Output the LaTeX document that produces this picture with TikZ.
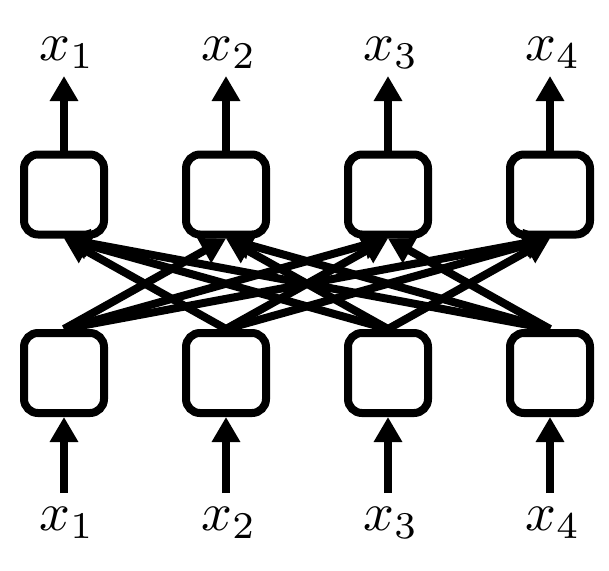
\documentclass[tikz,border=0pt]{standalone}
\usepackage{graphicx}
\usetikzlibrary{arrows.meta}
\begin{document}
\begin{tikzpicture}[x=1pt,y=-1pt,
  cell/.style={draw=black,line width=8pt,rounded corners=14pt,minimum size=80pt,inner sep=0pt,fill=white},
  lbl/.style={inner sep=0pt,anchor=base},
  arr/.style={line width=8pt,-{Triangle[length=25pt,width=27pt]}}]
\useasboundingbox (0,0) rectangle (609,570);
% cells
\foreach \i/\x in {1/64,2/226,3/388,4/550}{
  \node[cell] (t\i) at (\x,194.5) {};
  \node[cell] (b\i) at (\x,373) {};
  \node[lbl] (o\i) at (\x+3,60) {\scalebox{5.4}{$x_{\i}$}};
  \node[lbl] (n\i) at (\x+3,530) {\scalebox{5.4}{$x_{\i}$}};
}
% fully connected (i != j)
\foreach \i in {1,...,4}{
  \foreach \j in {1,...,4}{
    \ifnum\i=\j\else
      \draw[arr] (b\i.north) -- (t\j.south);
    \fi
  }
}
% outputs and inputs
\foreach \i in {1,...,4}{
  \draw[arr] (t\i.north) -- (t\i.north |- 0,76);
  \draw[arr] (b\i.south |- 0,493) -- (b\i.south);
}
\end{tikzpicture}
\end{document}
